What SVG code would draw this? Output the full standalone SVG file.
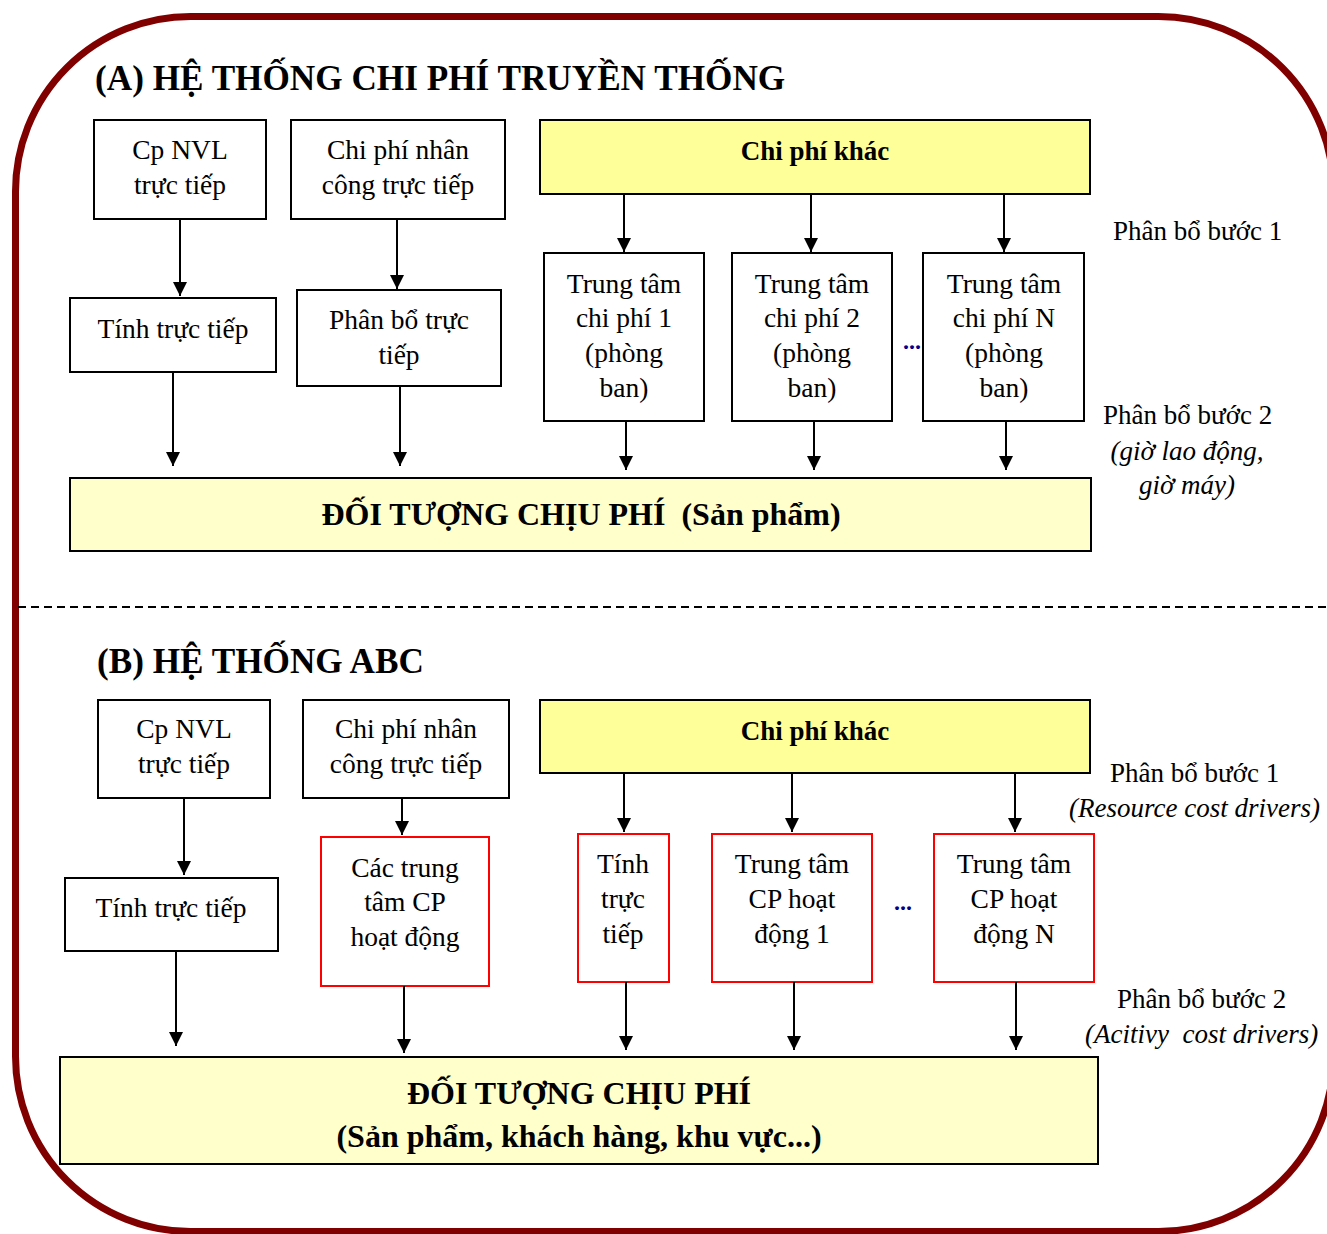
<svg xmlns="http://www.w3.org/2000/svg" width="1327" height="1234" viewBox="0 0 1327 1234" font-family="'Liberation Serif', 'Times New Roman', serif">
  <defs>
    <marker id="arrow" viewBox="0 0 14 14" refX="14" refY="7" markerWidth="14" markerHeight="14" markerUnits="userSpaceOnUse" orient="auto">
      <path d="M0,0 L14,7 L0,14 Z" fill="#000"/>
    </marker>
    <style>
      text { font-family: "Liberation Serif", "Times New Roman", serif; fill: #000; }
      .title { font-size: 35.2px; font-weight: bold; }
      .lbl { font-size: 27.5px; text-anchor: middle; }
      .side { font-size: 27px; }
      .it { font-style: italic; }
      .bold { font-weight: bold; text-anchor: middle; }
      .box { fill: #fff; stroke: #000; stroke-width: 2; }
      .red { fill: #fff; stroke: #ff0000; stroke-width: 2; }
      .hi { fill: #ffff99; stroke: #000; stroke-width: 2; }
      .pale { fill: #ffffcc; stroke: #000; stroke-width: 2; }
      .conn line { stroke: #000; stroke-width: 2; marker-end: url(#arrow); }
      .dots { fill: #00008b; font-size: 24px; font-weight: bold; }
    </style>
  </defs>

  <rect width="1327" height="1234" fill="#fff"/>

  <!-- outer frame -->
  <rect x="15.5" y="16.5" width="1318" height="1215" rx="175" ry="175" fill="none" stroke="#800000" stroke-width="7"/>

  <!-- section divider -->
  <line x1="18" y1="607" x2="1327" y2="607" stroke="#000" stroke-width="2" stroke-dasharray="8,5"/>

  <!-- ===== Section A ===== -->
  <text class="title" x="95" y="90">(A) HỆ THỐNG CHI PHÍ TRUYỀN THỐNG</text>

  <g id="a-nvl">
    <rect class="box" x="94" y="120" width="172" height="99"/>
    <text class="lbl" x="180" y="159">Cp NVL</text>
    <text class="lbl" x="180" y="194">trực tiếp</text>
  </g>
  <g id="a-nhancong">
    <rect class="box" x="291" y="120" width="214" height="99"/>
    <text class="lbl" x="398" y="159">Chi phí nhân</text>
    <text class="lbl" x="398" y="194">công trực tiếp</text>
  </g>
  <g id="a-khac">
    <rect class="hi" x="540" y="120" width="550" height="74"/>
    <text class="bold" x="815" y="160" font-size="27">Chi phí khác</text>
  </g>
  <g id="a-tinh">
    <rect class="box" x="70" y="298" width="206" height="74"/>
    <text class="lbl" x="173" y="338">Tính trực tiếp</text>
  </g>
  <g id="a-phanbo">
    <rect class="box" x="297" y="290" width="204" height="96"/>
    <text class="lbl" x="399" y="329">Phân bổ trực</text>
    <text class="lbl" x="399" y="364">tiếp</text>
  </g>
  <g id="a-tt1">
    <rect class="box" x="544" y="253" width="160" height="168"/>
    <text class="lbl" x="624" y="293">Trung tâm</text>
    <text class="lbl" x="624" y="327">chi phí 1</text>
    <text class="lbl" x="624" y="362">(phòng</text>
    <text class="lbl" x="624" y="397">ban)</text>
  </g>
  <g id="a-tt2">
    <rect class="box" x="732" y="253" width="160" height="168"/>
    <text class="lbl" x="812" y="293">Trung tâm</text>
    <text class="lbl" x="812" y="327">chi phí 2</text>
    <text class="lbl" x="812" y="362">(phòng</text>
    <text class="lbl" x="812" y="397">ban)</text>
  </g>
  <text class="dots" x="903" y="349">...</text>
  <g id="a-ttn">
    <rect class="box" x="923" y="253" width="161" height="168"/>
    <text class="lbl" x="1004" y="293">Trung tâm</text>
    <text class="lbl" x="1004" y="327">chi phí N</text>
    <text class="lbl" x="1004" y="362">(phòng</text>
    <text class="lbl" x="1004" y="397">ban)</text>
  </g>
  <g id="a-doituong">
    <rect class="pale" x="70" y="478" width="1021" height="73"/>
    <text class="bold" x="581" y="525" font-size="32" xml:space="preserve">ĐỐI TƯỢNG CHỊU PHÍ  (Sản phẩm)</text>
  </g>

  <g id="a-notes">
    <text class="side" x="1113" y="240">Phân bổ bước 1</text>
    <text class="side" x="1103" y="424">Phân bổ bước 2</text>
    <text class="side it" x="1187" y="460" text-anchor="middle">(giờ lao động,</text>
    <text class="side it" x="1187" y="494" text-anchor="middle">giờ máy)</text>
  </g>

  <g id="a-connectors" class="conn">
    <line x1="180" y1="219" x2="180" y2="296"/>
    <line x1="397" y1="219" x2="397" y2="289"/>
    <line x1="624" y1="194" x2="624" y2="252"/>
    <line x1="811" y1="194" x2="811" y2="252"/>
    <line x1="1004" y1="194" x2="1004" y2="252"/>
    <line x1="173" y1="372" x2="173" y2="466"/>
    <line x1="400" y1="386" x2="400" y2="466"/>
    <line x1="626" y1="421" x2="626" y2="470"/>
    <line x1="814" y1="421" x2="814" y2="470"/>
    <line x1="1006" y1="421" x2="1006" y2="470"/>
  </g>

  <!-- ===== Section B ===== -->
  <text class="title" x="97" y="673">(B) HỆ THỐNG ABC</text>

  <g id="b-nvl">
    <rect class="box" x="98" y="700" width="172" height="98"/>
    <text class="lbl" x="184" y="738">Cp NVL</text>
    <text class="lbl" x="184" y="773">trực tiếp</text>
  </g>
  <g id="b-nhancong">
    <rect class="box" x="303" y="700" width="206" height="98"/>
    <text class="lbl" x="406" y="738">Chi phí nhân</text>
    <text class="lbl" x="406" y="773">công trực tiếp</text>
  </g>
  <g id="b-khac">
    <rect class="hi" x="540" y="700" width="550" height="73"/>
    <text class="bold" x="815" y="740" font-size="27">Chi phí khác</text>
  </g>
  <g id="b-tinh">
    <rect class="box" x="65" y="878" width="213" height="73"/>
    <text class="lbl" x="171" y="917">Tính trực tiếp</text>
  </g>
  <g id="b-cactrungtam">
    <rect class="red" x="321" y="837" width="168" height="149"/>
    <text class="lbl" x="405" y="877">Các trung</text>
    <text class="lbl" x="405" y="911">tâm CP</text>
    <text class="lbl" x="405" y="946">hoạt động</text>
  </g>
  <g id="b-tinh2">
    <rect class="red" x="578" y="834" width="91" height="148"/>
    <text class="lbl" x="623" y="873">Tính</text>
    <text class="lbl" x="623" y="908">trực</text>
    <text class="lbl" x="623" y="943">tiếp</text>
  </g>
  <g id="b-hd1">
    <rect class="red" x="712" y="834" width="160" height="148"/>
    <text class="lbl" x="792" y="873">Trung tâm</text>
    <text class="lbl" x="792" y="908">CP hoạt</text>
    <text class="lbl" x="792" y="943">động 1</text>
  </g>
  <text class="dots" x="894" y="910">...</text>
  <g id="b-hdn">
    <rect class="red" x="934" y="834" width="160" height="148"/>
    <text class="lbl" x="1014" y="873">Trung tâm</text>
    <text class="lbl" x="1014" y="908">CP hoạt</text>
    <text class="lbl" x="1014" y="943">động N</text>
  </g>
  <g id="b-doituong">
    <rect class="pale" x="60" y="1057" width="1038" height="107"/>
    <text class="bold" x="579" y="1104" font-size="32">ĐỐI TƯỢNG CHỊU PHÍ</text>
    <text class="bold" x="579" y="1147" font-size="32">(Sản phẩm, khách hàng, khu vực...)</text>
  </g>

  <g id="b-notes">
    <text class="side" x="1110" y="782">Phân bổ bước 1</text>
    <text class="side it" x="1069" y="817">(Resource cost drivers)</text>
    <text class="side" x="1117" y="1008">Phân bổ bước 2</text>
    <text class="side it" x="1085" y="1043" xml:space="preserve">(Acitivy  cost drivers)</text>
  </g>

  <g id="b-connectors" class="conn">
    <line x1="184" y1="798" x2="184" y2="875"/>
    <line x1="402" y1="798" x2="402" y2="835"/>
    <line x1="624" y1="773" x2="624" y2="832"/>
    <line x1="792" y1="773" x2="792" y2="832"/>
    <line x1="1015" y1="773" x2="1015" y2="832"/>
    <line x1="176" y1="951" x2="176" y2="1046"/>
    <line x1="404" y1="986" x2="404" y2="1053"/>
    <line x1="626" y1="982" x2="626" y2="1050"/>
    <line x1="794" y1="982" x2="794" y2="1050"/>
    <line x1="1016" y1="982" x2="1016" y2="1050"/>
  </g>
</svg>
